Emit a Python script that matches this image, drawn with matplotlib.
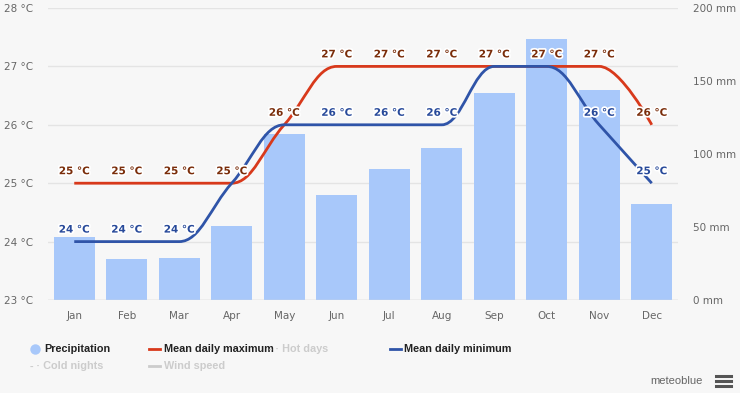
import matplotlib.pyplot as plt
import matplotlib.patheffects as pe
from matplotlib.path import Path
from matplotlib.patches import PathPatch
from matplotlib.lines import Line2D
from matplotlib import font_manager

months = ["Jan", "Feb", "Mar", "Apr", "May", "Jun", "Jul", "Aug", "Sep", "Oct", "Nov", "Dec"]
precip = [43, 28, 29, 51, 114, 72, 90, 104, 142, 179, 144, 66]
t_max = [25, 25, 25, 25, 26, 27, 27, 27, 27, 27, 27, 26]
t_min = [24, 24, 24, 25, 26, 26, 26, 26, 27, 27, 26, 25]
# labels of the minimum series that the chart hides because they overlap
min_hidden = ["Apr", "May", "Sep", "Oct"]

BG = "#f7f7f7"
BAR = "#a8c8fa"
RED = "#d8391b"
BLUE = "#2f54a8"
RED_TXT = "#7a2d0a"
BLUE_TXT = "#284a9a"
GRID = "#e4e4e4"
TICK = "#666666"


def spline_path(xs, ys, smoothing=1.5):
    # Highcharts-style spline: bezier control points around each point
    denom = smoothing + 1
    n = len(xs)
    verts = [(xs[0], ys[0])]
    codes = [Path.MOVETO]
    ctrl = []
    for i in range(n):
        x, y = xs[i], ys[i]
        if i == 0 or i == n - 1:
            ctrl.append(((x, y), (x, y)))
            continue
        lx, ly = xs[i - 1], ys[i - 1]
        nx, ny = xs[i + 1], ys[i + 1]
        lcx = (smoothing * x + lx) / denom
        lcy = (smoothing * y + ly) / denom
        rcx = (smoothing * x + nx) / denom
        rcy = (smoothing * y + ny) / denom
        if rcx != lcx:
            corr = ((rcy - lcy) * (rcx - x)) / (rcx - lcx) + y - rcy
            lcy += corr
            rcy += corr
        if lcy > max(ly, y):
            lcy = max(ly, y)
            rcy = 2 * y - lcy
        elif lcy < min(ly, y):
            lcy = min(ly, y)
            rcy = 2 * y - lcy
        if rcy > max(ny, y):
            rcy = max(ny, y)
            lcy = 2 * y - rcy
        elif rcy < min(ny, y):
            rcy = min(ny, y)
            lcy = 2 * y - rcy
        ctrl.append(((lcx, lcy), (rcx, rcy)))
    for i in range(1, n):
        verts += [ctrl[i - 1][1], ctrl[i][0], (xs[i], ys[i])]
        codes += [Path.CURVE4] * 3
    return Path(verts, codes)


fig = plt.figure(figsize=(7.4, 3.93), dpi=100, facecolor=BG)
# ax: temperature scale, grid and left ticks (bottom layer)
ax = fig.add_axes([48 / 740, 1 - 300 / 393, 630 / 740, 292 / 393])
ax.set_facecolor(BG)
# ax2: precipitation bars and right ticks
ax2 = ax.twinx()
# ax3: temperature lines on top
ax3 = ax.twinx()

x = list(range(len(months)))

ax2.bar(x, precip, width=0.78, color=BAR, zorder=1)
ax2.set_ylim(0, 200)
ax2.set_yticks([0, 50, 100, 150, 200])
ax2.set_yticklabels([f"{v} mm" for v in [0, 50, 100, 150, 200]])

ax.set_ylim(23, 28)
ax.set_xlim(-0.5, 11.5)
ax.set_yticks([23, 24, 25, 26, 27, 28])
ax.set_yticklabels([f"{v} °C" for v in range(23, 29)])
ax.set_xticks(x)
ax.set_xticklabels(months)
ax.grid(axis="y", color=GRID, linewidth=1)
ax.set_axisbelow(True)

ax3.set_ylim(23, 28)
ax3.set_yticks([])

for a in (ax, ax2, ax3):
    for s in a.spines.values():
        s.set_visible(False)
    a.tick_params(length=0, labelsize=7.5, labelcolor=TICK)
ax.tick_params(axis="y", pad=11)
ax2.tick_params(axis="y", pad=11)
ax.tick_params(axis="x", pad=8)
ax2.axhline(0, color="#d8d8d8", linewidth=1, zorder=2)

for ys, col in ((t_max, RED), (t_min, BLUE)):
    ax3.add_patch(PathPatch(spline_path(x, ys), facecolor="none", edgecolor=col,
                            linewidth=2, zorder=3, capstyle="butt"))

outline = [pe.withStroke(linewidth=2.5, foreground="white")]
for i, m in enumerate(months):
    ax3.annotate(f"{t_max[i]} °C", (i, t_max[i]), xytext=(0, 12), textcoords="offset pixels",
                 ha="center", va="center", fontsize=7.5, fontweight="bold", color=RED_TXT,
                 path_effects=outline, zorder=5)
    if m not in min_hidden:
        ax3.annotate(f"{t_min[i]} °C", (i, t_min[i]), xytext=(0, 12), textcoords="offset pixels",
                     ha="center", va="center", fontsize=7.5, fontweight="bold", color=BLUE_TXT,
                     path_effects=outline, zorder=5)

# legend, drawn as figure text
installed = {f.name for f in font_manager.fontManager.ttflist}
leg_font = "Liberation Sans Narrow" if "Liberation Sans Narrow" in installed else "Liberation Sans"
fs = 8.8 if leg_font == "Liberation Sans Narrow" else 7.8
r1 = 1 - 349 / 393
r2 = 1 - 366 / 393
fig.add_artist(Line2D([35 / 740], [r1], marker="o", markersize=7.5, color=BAR,
                      markeredgewidth=0))
fig.text(44 / 740, r1, "Precipitation", fontsize=fs, fontweight="bold", va="center",
         color="#222222", family=leg_font)
fig.add_artist(Line2D([149 / 740, 160 / 740], [r1, r1], color=RED, linewidth=2))
fig.text(164 / 740, r1, "Mean daily maximum", fontsize=fs, fontweight="bold", va="center",
         color="#222222", family=leg_font)
fig.text(269 / 740, r1, "- · Hot days", fontsize=fs, fontweight="bold", va="center",
         color="#cccccc", family=leg_font)
fig.add_artist(Line2D([390 / 740, 401 / 740], [r1, r1], color=BLUE, linewidth=2))
fig.text(404 / 740, r1, "Mean daily minimum", fontsize=fs, fontweight="bold", va="center",
         color="#222222", family=leg_font)
fig.text(30 / 740, r2, "- · Cold nights", fontsize=fs, fontweight="bold", va="center",
         color="#cccccc", family=leg_font)
fig.add_artist(Line2D([149 / 740, 160 / 740], [r2, r2], color="#cccccc", linewidth=2))
fig.text(164 / 740, r2, "Wind speed", fontsize=fs, fontweight="bold", va="center",
         color="#cccccc", family=leg_font)

fig.text(703 / 740, 1 - 381 / 393, "meteoblue", fontsize=8, ha="right", va="center",
         color="#666666", family=leg_font)
for dy in (-5, 0, 5):
    fig.add_artist(Line2D([716 / 740, 731 / 740], [1 - (381 + dy) / 393] * 2,
                          color="#555555", linewidth=2.2))

fig.savefig("out.png", dpi=100, facecolor=BG)
